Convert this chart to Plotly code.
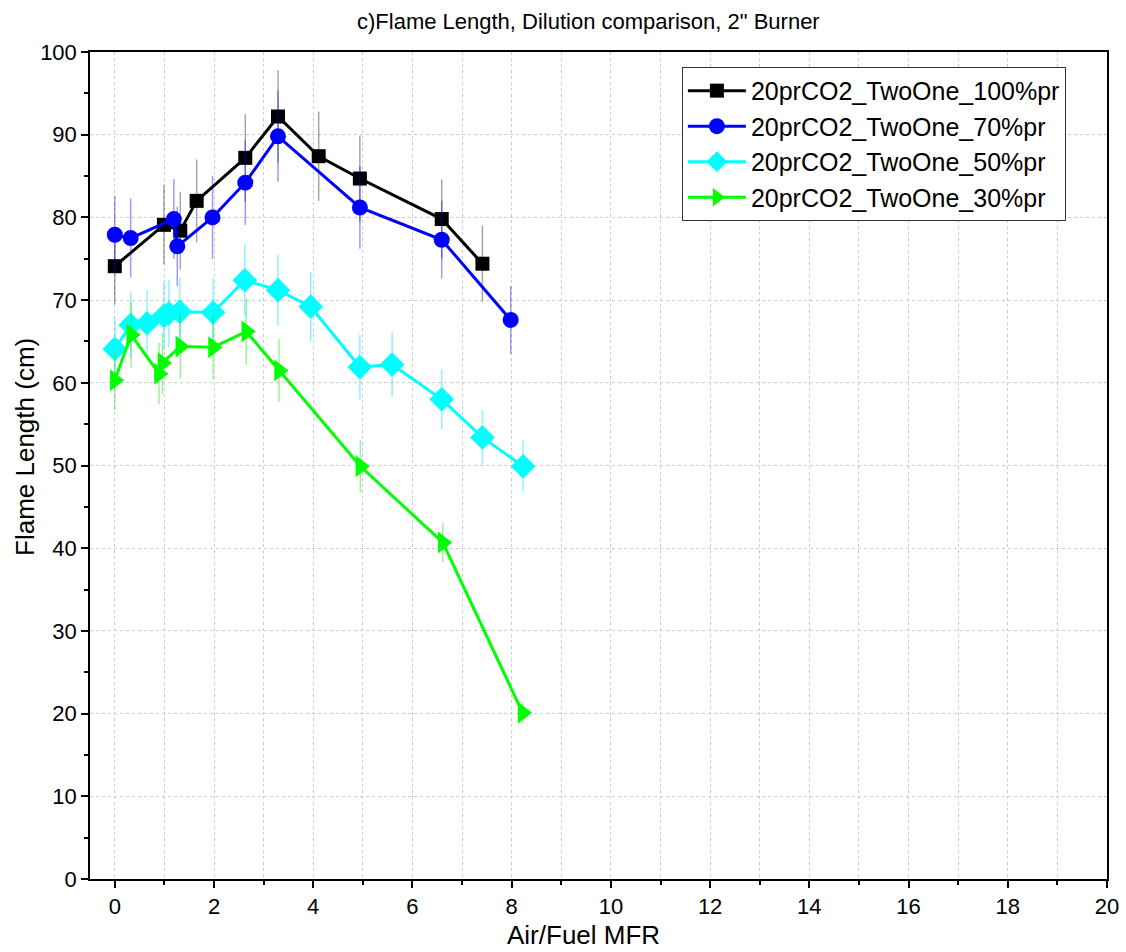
import plotly.graph_objects as go

# ---- data ----
names = ["20prCO2_TwoOne_100%pr", "20prCO2_TwoOne_70%pr", "20prCO2_TwoOne_50%pr", "20prCO2_TwoOne_30%pr"]

x100 = [0, 0.99, 1.32, 1.65, 2.63, 3.29, 4.11, 4.94, 6.59, 7.41]
y100 = [74.1, 79.1, 78.4, 82.0, 87.2, 92.2, 87.4, 84.7, 79.8, 74.4]
e100 = [4.6, 4.8, 4.7, 5.0, 5.3, 5.6, 5.4, 5.2, 4.8, 4.6]

x70 = [0, 0.32, 1.19, 1.26, 1.97, 2.63, 3.29, 4.94, 6.59, 7.98]
y70 = [77.9, 77.5, 79.8, 76.5, 80.0, 84.2, 89.8, 81.2, 77.3, 67.6]
e70 = [4.7, 4.8, 4.8, 4.8, 5.0, 5.1, 5.5, 5.0, 4.7, 4.1]

x50 = [0, 0.32, 0.65, 0.99, 1.09, 1.31, 1.98, 2.62, 3.29, 3.95, 4.94, 5.59, 6.59, 7.41, 8.23]
y50 = [64.1, 67.0, 67.2, 68.1, 68.4, 68.6, 68.5, 72.4, 71.2, 69.2, 61.9, 62.2, 58.0, 53.4, 49.9]
e50 = [3.8, 4.0, 4.0, 4.1, 4.1, 4.1, 4.1, 4.4, 4.3, 4.2, 3.9, 3.9, 3.6, 3.3, 3.1]

x30 = [0, 0.33, 0.89, 0.96, 1.32, 1.98, 2.65, 3.31, 4.95, 6.61, 8.22]
y30 = [60.3, 65.8, 61.1, 62.4, 64.4, 64.3, 66.2, 61.5, 49.9, 40.7, 20.1]
e30 = [3.6, 4.0, 3.7, 3.7, 3.9, 3.9, 4.0, 3.8, 3.2, 2.4, 1.3]

title_text = 'c)Flame Length, Dilution comparison, 2" Burner'
x_title = "Air/Fuel MFR"
y_title = "Flame Length (cm)"

FONT = "Arial, Liberation Sans, sans-serif"

series = [
    (x100, y100, e100, names[0], "#000000", "rgba(0,0,0,0.35)", "square", 14),
    (x70, y70, e70, names[1], "#0000ff", "rgba(0,0,255,0.40)", "circle", 16),
    (x50, y50, e50, names[2], "#00ffff", "rgba(0,230,255,0.45)", "diamond", 19),
    (x30, y30, e30, names[3], "#00ff00", "rgba(0,230,0,0.40)", "triangle-right", 19),
]

fig = go.Figure()
for xs, ys, es, nm, col, ecol, sym, sz in series:
    fig.add_trace(go.Scatter(
        x=xs, y=ys, name=nm, mode="lines+markers",
        line=dict(color=col, width=3),
        marker=dict(color=col, symbol=sym, size=sz, line=dict(width=0)),
        error_y=dict(type="data", array=es, visible=True, color=ecol, thickness=1.5, width=0),
    ))

fig.update_layout(
    width=1126, height=952,
    margin=dict(l=90, r=19, t=52, b=73, autoexpand=False),
    paper_bgcolor="white", plot_bgcolor="white",
    font=dict(family=FONT, color="black"),
    showlegend=True,
    legend=dict(
        x=0.582, y=0.982, xanchor="left", yanchor="top",
        bgcolor="white", bordercolor="#333333", borderwidth=1,
        font=dict(size=25, family=FONT, color="black"),
        itemwidth=58, tracegroupgap=0,
    ),
    annotations=[
        dict(text=title_text, x=0.49, y=1.0363, xref="paper", yref="paper",
             showarrow=False, font=dict(size=22, family=FONT), xanchor="center", yanchor="middle"),
        dict(text=x_title, x=(583 - 90) / 1017, y=-0.0677, xref="paper", yref="paper",
             showarrow=False, font=dict(size=26, family=FONT), xanchor="center", yanchor="middle"),
        dict(text=y_title, x=-0.0639, y=0.5224, xref="paper", yref="paper",
             showarrow=False, textangle=-90, font=dict(size=26, family=FONT), xanchor="center", yanchor="middle"),
    ],
)

fig.update_xaxes(
    range=[-0.5, 20], dtick=2, tick0=0, automargin=False,
    showline=True, linecolor="black", linewidth=1.5, mirror=True,
    ticks="outside", ticklen=7, tickwidth=1.5, tickcolor="black",
    tickfont=dict(size=22, family=FONT),
    showgrid=True, gridcolor="#cccccc", griddash="dot", gridwidth=1,
    minor=dict(dtick=1, tick0=0, ticks="outside", ticklen=4, tickcolor="black", tickwidth=1.5,
               showgrid=True, gridcolor="#cccccc", griddash="dot", gridwidth=1),
    zeroline=False,
)
fig.update_yaxes(
    range=[0, 100], dtick=10, tick0=0, automargin=False,
    showline=True, linecolor="black", linewidth=1.5, mirror=True,
    ticks="outside", ticklen=7, tickwidth=1.5, tickcolor="black",
    tickfont=dict(size=22, family=FONT),
    showgrid=True, gridcolor="#cccccc", griddash="dot", gridwidth=1,
    minor=dict(dtick=5, tick0=0, ticks="outside", ticklen=4, tickcolor="black", tickwidth=1.5, showgrid=False),
    zeroline=False,
)

fig.write_html("out.html")
